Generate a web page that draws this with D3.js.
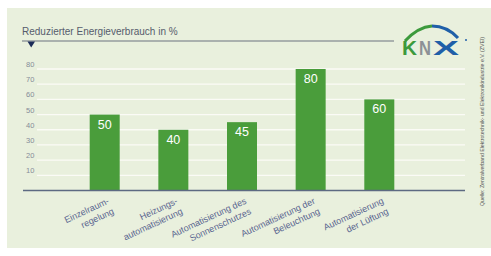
<!DOCTYPE html>
<html lang="de">
  <head>
    <meta charset="UTF-8" />
    <title>Reduzierter Energieverbrauch</title>
    <script src="https://cdn.jsdelivr.net/npm/d3@7"></script>
    <style>
      body { margin: 0; background: #fff; }
      svg { display: block; font-family: "Liberation Sans", Arial, sans-serif; }
    </style>
  </head>
  <body>
    <svg width="491" height="256"></svg>

    <script>
      var categories = [
        ["Einzelraum-", "regelung"],
        ["Heizungs-", "automatisierung"],
        ["Automatisierung des", "Sonnenschutzes"],
        ["Automatisierung der", "Beleuchtung"],
        ["Automatisierung", "der Lüftung"],
      ];
      var values = [50, 40, 45, 80, 60];
      var yTicks = [10, 20, 30, 40, 50, 60, 70, 80];
      var title = "Reduzierter Energieverbrauch in %";
      var source = "Quelle: Zentralverband Elektrotechnik- und Elektronikindustrie e.V. (ZVEI)";

      var svg = d3.select("svg");

      // panel
      svg.append("rect")
        .attr("x", 7).attr("y", 8)
        .attr("width", 484).attr("height", 240)
        .attr("fill", "#e9f0dd");

      var x = d3.scaleBand()
        .domain(d3.range(categories.length))
        .range([69.1, 414.9])
        .paddingInner(0.563)
        .paddingOuter(0.3);
      var y = d3.scaleLinear().domain([0, 80]).range([190.5, 69]);

      // title and rule
      svg.append("text")
        .attr("x", 22).attr("y", 35)
        .attr("font-size", 10)
        .attr("fill", "#565c6c")
        .text(title);
      svg.append("line")
        .attr("x1", 22).attr("x2", 394)
        .attr("y1", 41).attr("y2", 41)
        .attr("stroke", "#6c7280").attr("stroke-width", 1.2);
      svg.append("path")
        .attr("d", "M27.5,41.5 L35,41.5 L31.2,47.5 Z")
        .attr("fill", "#1b2b58");

      // grid
      svg.append("g")
        .selectAll("line")
        .data(yTicks)
        .join("line")
        .attr("x1", 37).attr("x2", 465)
        .attr("y1", function (d) { return y(d); })
        .attr("y2", function (d) { return y(d); })
        .attr("stroke", "#fbfbf6").attr("stroke-width", 1.3);

      svg.append("g")
        .selectAll("text")
        .data(yTicks)
        .join("text")
        .attr("x", 26)
        .attr("y", function (d) { return y(d) - 2; })
        .attr("font-size", 7.5)
        .attr("fill", "#868c98")
        .text(function (d) { return d; });

      // bars
      svg.append("g")
        .selectAll("rect")
        .data(values)
        .join("rect")
        .attr("x", function (d, i) { return x(i); })
        .attr("y", function (d) { return y(d); })
        .attr("width", x.bandwidth())
        .attr("height", function (d) { return y(0) - y(d); })
        .attr("fill", "#4a9d3b");

      svg.append("g")
        .selectAll("text")
        .data(values)
        .join("text")
        .attr("x", function (d, i) { return x(i) + x.bandwidth() / 2; })
        .attr("y", function (d) { return y(d) + 14; })
        .attr("text-anchor", "middle")
        .attr("font-size", 12.5)
        .attr("fill", "#fff")
        .text(function (d) { return d; });

      // baseline
      svg.append("line")
        .attr("x1", 23).attr("x2", 465)
        .attr("y1", y(0)).attr("y2", y(0))
        .attr("stroke", "#5d6a82").attr("stroke-width", 1.3);

      // category labels
      var lab = svg.append("g")
        .selectAll("text")
        .data(categories)
        .join("text")
        .attr("transform", function (d, i) {
          return "translate(" + (x(i) + x.bandwidth() / 2 + 5) + ",203) rotate(-25)";
        })
        .attr("text-anchor", "end")
        .attr("font-size", 9)
        .attr("fill", "#5a6690");
      lab.selectAll("tspan")
        .data(function (d) { return d; })
        .join("tspan")
        .attr("x", 0)
        .attr("dy", function (d, j) { return j ? 11.5 : 0; })
        .text(function (d) { return d; });

      // KNX logo
      var logo = svg.append("g");
      logo.append("path")
        .attr("d", "M405,41 Q418,27 432,26")
        .attr("fill", "none").attr("stroke", "#3c9a3c").attr("stroke-width", 3);
      logo.append("path")
        .attr("d", "M432,26 Q447,26 458,38")
        .attr("fill", "none").attr("stroke", "#1f5fa8").attr("stroke-width", 3);
      var letters = [["K", 402, 15, "#3c9a3c"], ["N", 419, 12, "#8c9196"], ["X", 433, 26, "#1f5fa8"]];
      logo.selectAll("text")
        .data(letters)
        .join("text")
        .attr("x", function (d) { return d[1]; })
        .attr("y", 55)
        .attr("font-size", 21)
        .attr("font-weight", "bold")
        .attr("textLength", function (d) { return d[2]; })
        .attr("lengthAdjust", "spacingAndGlyphs")
        .attr("fill", function (d) { return d[3]; })
        .text(function (d) { return d[0]; });
      logo.append("circle")
        .attr("cx", 466).attr("cy", 40).attr("r", 1)
        .attr("fill", "#1f5fa8");

      // source
      svg.append("text")
        .attr("transform", "translate(484,206) rotate(-90)")
        .attr("font-size", 5.2)
        .attr("fill", "#555")
        .text(source);
    </script>
  </body>
</html>
